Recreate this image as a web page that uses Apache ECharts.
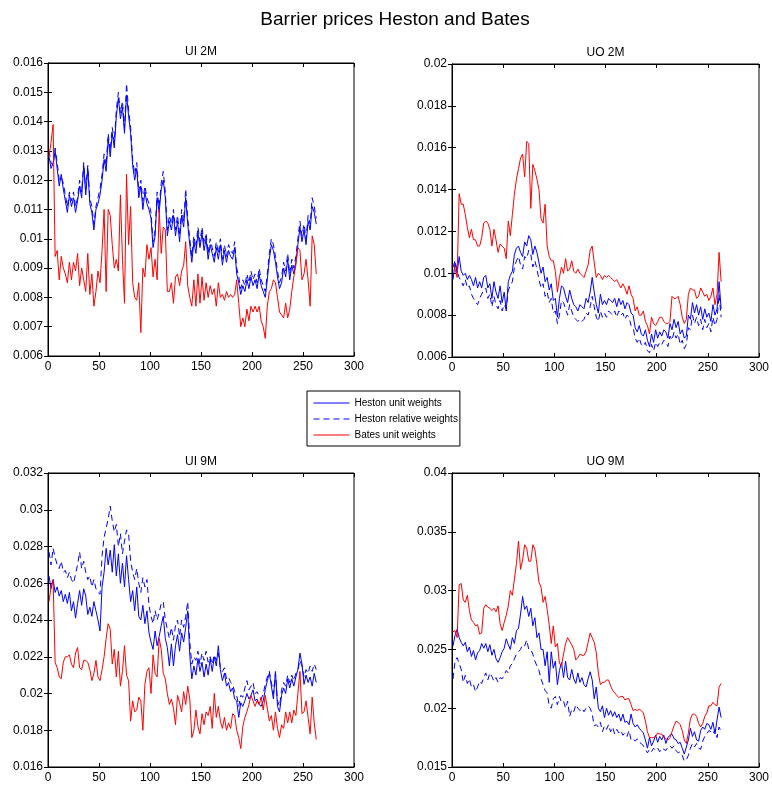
<!DOCTYPE html>
<html><head><meta charset="utf-8">
<script src="https://cdn.jsdelivr.net/npm/echarts@6/dist/echarts.min.js"></script>
<style>html,body{margin:0;padding:0;background:#fff}#c{width:772px;height:787px}</style>
</head><body><div id="c"></div>
<script>
// trading day index (every 2nd day)
const days = [];
for (let d = 1; d <= 263; d += 2) days.push(d);

const seriesNames = ['Heston unit weights', 'Heston relative weights', 'Bates unit weights'];
const panelTitles = ['UI 2M', 'UO 2M', 'UI 9M', 'UO 9M'];
const mainTitle = 'Barrier prices Heston and Bates';
const xTickValues = [0, 50, 100, 150, 200, 250, 300];

// ---- UI 2M ----
const hu1 = [0.0128,0.0124,0.0126,0.0130,0.0124,0.0118,0.0122,0.0117,0.0113,0.0109,
0.0115,0.0111,0.0114,0.0109,0.0113,0.0118,0.0114,0.0125,0.0115,0.0124,
0.0112,0.0109,0.0103,0.0110,0.0112,0.0115,0.0120,0.0127,0.0123,0.0134,
0.0128,0.0136,0.0131,0.0142,0.0148,0.0141,0.0145,0.0136,0.0149,0.0142,
0.0136,0.0125,0.0120,0.0124,0.0114,0.0118,0.0110,0.0116,0.0112,0.0110,
0.0107,0.0097,0.0101,0.0114,0.0109,0.0117,0.0120,0.0114,0.0101,0.0106,
0.0103,0.0108,0.0101,0.0106,0.0099,0.0108,0.0104,0.0114,0.0105,0.0098,
0.0092,0.0099,0.0095,0.0102,0.0097,0.0102,0.0096,0.0100,0.0093,0.0098,
0.0095,0.0092,0.0097,0.0093,0.0098,0.0091,0.0096,0.0092,0.0096,0.0094,
0.0093,0.0097,0.0088,0.0085,0.0081,0.0084,0.0082,0.0086,0.0083,0.0087,
0.0084,0.0086,0.0083,0.0088,0.0084,0.0082,0.0080,0.0086,0.0093,0.0098,
0.0096,0.0092,0.0087,0.0083,0.0085,0.0090,0.0087,0.0093,0.0086,0.0091,
0.0088,0.0092,0.0098,0.0104,0.0099,0.0103,0.0098,0.0106,0.0103,0.0111,
0.0109,0.0105];
const hr1 = [0.0130,0.0126,0.0125,0.0131,0.0126,0.0120,0.0121,0.0119,0.0115,0.0111,
0.0116,0.0113,0.0116,0.0111,0.0114,0.0120,0.0116,0.0126,0.0117,0.0125,
0.0114,0.0111,0.0105,0.0111,0.0114,0.0117,0.0122,0.0129,0.0125,0.0136,
0.0130,0.0138,0.0133,0.0144,0.0150,0.0143,0.0147,0.0138,0.0153,0.0144,
0.0138,0.0127,0.0122,0.0126,0.0116,0.0120,0.0113,0.0118,0.0114,0.0112,
0.0109,0.0099,0.0103,0.0116,0.0111,0.0119,0.0123,0.0116,0.0103,0.0108,
0.0105,0.0110,0.0103,0.0108,0.0101,0.0110,0.0106,0.0117,0.0107,0.0100,
0.0094,0.0101,0.0097,0.0104,0.0099,0.0104,0.0098,0.0102,0.0095,0.0100,
0.0097,0.0094,0.0099,0.0095,0.0100,0.0093,0.0098,0.0094,0.0098,0.0096,
0.0095,0.0099,0.0090,0.0087,0.0083,0.0086,0.0084,0.0088,0.0085,0.0089,
0.0086,0.0088,0.0085,0.0090,0.0086,0.0084,0.0082,0.0088,0.0095,0.0100,
0.0098,0.0094,0.0089,0.0085,0.0087,0.0092,0.0089,0.0095,0.0088,0.0093,
0.0090,0.0094,0.0100,0.0106,0.0101,0.0105,0.0100,0.0108,0.0105,0.0114,
0.0111,0.0107];
const b1 = [0.0128,0.0133,0.0139,0.0094,0.0096,0.0086,0.0094,0.0090,0.0088,0.0085,
0.0092,0.0086,0.0092,0.0089,0.0095,0.0084,0.0090,0.0086,0.0082,0.0095,
0.0081,0.0088,0.0077,0.0082,0.0089,0.0085,0.0096,0.0110,0.0082,0.0110,
0.0108,0.0098,0.0090,0.0093,0.0089,0.0115,0.0093,0.0078,0.0122,0.0098,
0.0111,0.0085,0.0080,0.0079,0.0085,0.0068,0.0090,0.0087,0.0098,0.0093,
0.0097,0.0087,0.0093,0.0086,0.0110,0.0095,0.0104,0.0103,0.0082,0.0082,
0.0085,0.0078,0.0087,0.0088,0.0084,0.0089,0.0091,0.0099,0.0084,0.0080,
0.0077,0.0086,0.0077,0.0088,0.0078,0.0087,0.0079,0.0085,0.0080,0.0084,
0.0081,0.0083,0.0077,0.0085,0.0080,0.0081,0.0079,0.0082,0.0080,0.0081,
0.0080,0.0081,0.0086,0.0078,0.0070,0.0073,0.0070,0.0076,0.0072,0.0077,
0.0075,0.0077,0.0075,0.0077,0.0072,0.0070,0.0066,0.0077,0.0082,0.0083,
0.0086,0.0085,0.0080,0.0075,0.0074,0.0073,0.0078,0.0073,0.0076,0.0082,
0.0087,0.0091,0.0097,0.0096,0.0086,0.0088,0.0093,0.0086,0.0077,0.0101,
0.0098,0.0088];

// ---- UO 2M ----
const hu2 = [0.0097,0.0105,0.0100,0.0108,0.0101,0.0099,0.0100,0.0097,0.0099,0.0097,
0.0094,0.0098,0.0093,0.0096,0.0093,0.0098,0.0099,0.0093,0.0095,0.0088,
0.0096,0.0091,0.0088,0.0094,0.0086,0.0091,0.0082,0.0096,0.0099,0.0101,
0.0109,0.0112,0.0113,0.0110,0.0108,0.0115,0.0113,0.0118,0.0116,0.0109,
0.0113,0.0110,0.0105,0.0100,0.0103,0.0096,0.0098,0.0092,0.0095,0.0087,
0.0088,0.0079,0.0088,0.0094,0.0093,0.0089,0.0086,0.0092,0.0088,0.0085,
0.0084,0.0082,0.0085,0.0084,0.0083,0.0088,0.0086,0.0091,0.0098,0.0091,
0.0085,0.0081,0.0090,0.0085,0.0087,0.0085,0.0088,0.0087,0.0086,0.0088,
0.0084,0.0088,0.0085,0.0087,0.0083,0.0086,0.0085,0.0081,0.0080,0.0074,
0.0072,0.0075,0.0071,0.0070,0.0073,0.0068,0.0065,0.0071,0.0067,0.0073,
0.0069,0.0072,0.0070,0.0073,0.0072,0.0069,0.0076,0.0073,0.0078,0.0074,
0.0077,0.0071,0.0073,0.0069,0.0070,0.0080,0.0078,0.0086,0.0081,0.0085,
0.0080,0.0084,0.0078,0.0083,0.0079,0.0081,0.0077,0.0085,0.0080,0.0083,
0.0096,0.0083];
const hr2 = [0.0103,0.0106,0.0101,0.0098,0.0096,0.0094,0.0097,0.0093,0.0094,0.0090,
0.0088,0.0086,0.0085,0.0088,0.0090,0.0092,0.0093,0.0088,0.0090,0.0084,
0.0089,0.0085,0.0083,0.0087,0.0082,0.0085,0.0083,0.0092,0.0094,0.0096,
0.0103,0.0106,0.0108,0.0104,0.0102,0.0108,0.0107,0.0111,0.0109,0.0103,
0.0106,0.0102,0.0097,0.0093,0.0095,0.0089,0.0091,0.0086,0.0088,0.0081,
0.0082,0.0076,0.0080,0.0087,0.0086,0.0083,0.0080,0.0085,0.0082,0.0079,
0.0078,0.0077,0.0078,0.0077,0.0078,0.0081,0.0080,0.0084,0.0089,0.0084,
0.0079,0.0077,0.0082,0.0079,0.0081,0.0079,0.0082,0.0081,0.0080,0.0082,
0.0079,0.0082,0.0080,0.0081,0.0078,0.0080,0.0079,0.0075,0.0074,0.0069,
0.0067,0.0069,0.0066,0.0065,0.0067,0.0063,0.0062,0.0066,0.0063,0.0067,
0.0065,0.0067,0.0066,0.0068,0.0067,0.0065,0.0070,0.0068,0.0072,0.0069,
0.0071,0.0066,0.0068,0.0064,0.0066,0.0074,0.0073,0.0080,0.0076,0.0079,
0.0075,0.0078,0.0073,0.0078,0.0074,0.0076,0.0072,0.0079,0.0075,0.0078,
0.0090,0.0079];
const b2 = [0.0104,0.0102,0.0098,0.0138,0.0133,0.0133,0.0128,0.0122,0.0117,0.0121,
0.0116,0.0116,0.0113,0.0113,0.0117,0.0124,0.0125,0.0124,0.0121,0.0113,
0.0121,0.0116,0.0110,0.0114,0.0113,0.0112,0.0107,0.0125,0.0118,0.0128,
0.0138,0.0145,0.0150,0.0155,0.0157,0.0146,0.0163,0.0162,0.0131,0.0152,
0.0149,0.0145,0.0140,0.0126,0.0124,0.0133,0.0113,0.0108,0.0106,0.0106,
0.0101,0.0091,0.0098,0.0103,0.0100,0.0107,0.0101,0.0102,0.0106,0.0101,
0.0100,0.0102,0.0100,0.0099,0.0098,0.0101,0.0104,0.0111,0.0113,0.0105,
0.0098,0.0100,0.0099,0.0097,0.0099,0.0098,0.0099,0.0098,0.0097,0.0096,
0.0097,0.0095,0.0093,0.0095,0.0093,0.0090,0.0094,0.0090,0.0088,0.0082,
0.0084,0.0080,0.0080,0.0082,0.0077,0.0075,0.0071,0.0079,0.0076,0.0075,
0.0077,0.0079,0.0079,0.0077,0.0076,0.0076,0.0077,0.0089,0.0088,0.0088,
0.0089,0.0085,0.0079,0.0076,0.0078,0.0090,0.0093,0.0092,0.0092,0.0088,
0.0089,0.0093,0.0091,0.0089,0.0090,0.0087,0.0089,0.0093,0.0085,0.0090,
0.0110,0.0096];

// ---- UI 9M ----
const hu3 = [0.0264,0.0257,0.0262,0.0255,0.0258,0.0253,0.0256,0.0250,0.0254,0.0249,
0.0255,0.0245,0.0250,0.0241,0.0249,0.0256,0.0248,0.0257,0.0253,0.0243,
0.0247,0.0242,0.0250,0.0245,0.0240,0.0234,0.0258,0.0266,0.0279,0.0270,
0.0278,0.0266,0.0281,0.0264,0.0276,0.0260,0.0271,0.0258,0.0275,0.0262,
0.0250,0.0256,0.0245,0.0258,0.0242,0.0240,0.0248,0.0238,0.0245,0.0233,
0.0228,0.0224,0.0234,0.0226,0.0231,0.0237,0.0242,0.0230,0.0225,0.0215,
0.0227,0.0215,0.0226,0.0232,0.0223,0.0233,0.0228,0.0236,0.0245,0.0221,
0.0208,0.0215,0.0210,0.0219,0.0212,0.0217,0.0209,0.0216,0.0210,0.0219,
0.0212,0.0220,0.0215,0.0226,0.0213,0.0207,0.0211,0.0204,0.0206,0.0201,
0.0203,0.0197,0.0196,0.0187,0.0195,0.0193,0.0196,0.0200,0.0197,0.0199,
0.0202,0.0196,0.0197,0.0194,0.0193,0.0196,0.0202,0.0207,0.0211,0.0204,
0.0197,0.0212,0.0193,0.0190,0.0199,0.0203,0.0200,0.0208,0.0203,0.0208,
0.0204,0.0209,0.0213,0.0222,0.0216,0.0205,0.0210,0.0206,0.0209,0.0204,
0.0211,0.0206];
const hr3 = [0.0277,0.0270,0.0279,0.0274,0.0270,0.0268,0.0272,0.0266,0.0267,0.0263,
0.0266,0.0262,0.0260,0.0265,0.0270,0.0277,0.0268,0.0272,0.0266,0.0262,
0.0264,0.0258,0.0262,0.0257,0.0255,0.0254,0.0275,0.0285,0.0290,0.0295,
0.0302,0.0294,0.0288,0.0292,0.0280,0.0287,0.0276,0.0283,0.0289,0.0287,
0.0272,0.0266,0.0262,0.0268,0.0260,0.0255,0.0263,0.0258,0.0262,0.0248,
0.0242,0.0238,0.0245,0.0240,0.0244,0.0249,0.0250,0.0240,0.0235,0.0230,
0.0236,0.0229,0.0237,0.0240,0.0231,0.0240,0.0236,0.0242,0.0250,0.0228,
0.0216,0.0220,0.0218,0.0223,0.0216,0.0222,0.0218,0.0223,0.0217,0.0220,
0.0216,0.0221,0.0218,0.0222,0.0214,0.0212,0.0214,0.0208,0.0209,0.0206,
0.0205,0.0201,0.0199,0.0193,0.0199,0.0198,0.0203,0.0207,0.0202,0.0204,
0.0206,0.0200,0.0201,0.0198,0.0197,0.0200,0.0205,0.0209,0.0212,0.0206,
0.0200,0.0211,0.0196,0.0193,0.0202,0.0206,0.0204,0.0210,0.0206,0.0210,
0.0207,0.0211,0.0213,0.0218,0.0215,0.0209,0.0213,0.0211,0.0215,0.0212,
0.0216,0.0213];
const b3 = [0.0250,0.0258,0.0262,0.0217,0.0214,0.0209,0.0208,0.0217,0.0220,0.0220,
0.0221,0.0216,0.0214,0.0222,0.0225,0.0214,0.0213,0.0218,0.0218,0.0217,
0.0213,0.0207,0.0211,0.0218,0.0209,0.0207,0.0213,0.0220,0.0230,0.0238,
0.0235,0.0216,0.0224,0.0209,0.0223,0.0204,0.0212,0.0226,0.0210,0.0207,
0.0185,0.0196,0.0190,0.0191,0.0198,0.0196,0.0180,0.0205,0.0212,0.0214,
0.0200,0.0221,0.0211,0.0209,0.0230,0.0224,0.0211,0.0208,0.0200,0.0194,
0.0197,0.0192,0.0183,0.0199,0.0195,0.0190,0.0201,0.0194,0.0204,0.0197,
0.0176,0.0180,0.0191,0.0182,0.0178,0.0189,0.0183,0.0190,0.0188,0.0193,
0.0181,0.0200,0.0187,0.0193,0.0185,0.0181,0.0187,0.0180,0.0184,0.0181,
0.0189,0.0188,0.0180,0.0176,0.0170,0.0182,0.0187,0.0190,0.0194,0.0199,
0.0196,0.0193,0.0196,0.0194,0.0198,0.0191,0.0199,0.0192,0.0185,0.0188,
0.0180,0.0190,0.0181,0.0176,0.0183,0.0181,0.0190,0.0184,0.0190,0.0184,
0.0191,0.0188,0.0200,0.0212,0.0189,0.0190,0.0196,0.0187,0.0178,0.0198,
0.0184,0.0175];

// ---- UO 9M ----
const hu4 = [0.0253,0.0262,0.0267,0.0260,0.0256,0.0253,0.0256,0.0248,0.0252,0.0244,
0.0249,0.0241,0.0247,0.0249,0.0255,0.0251,0.0255,0.0248,0.0254,0.0245,
0.0250,0.0242,0.0239,0.0243,0.0248,0.0251,0.0259,0.0254,0.0250,0.0260,
0.0255,0.0266,0.0268,0.0280,0.0295,0.0284,0.0287,0.0278,0.0285,0.0270,
0.0277,0.0260,0.0264,0.0250,0.0250,0.0236,0.0248,0.0222,0.0248,0.0234,
0.0240,0.0220,0.0232,0.0239,0.0226,0.0240,0.0226,0.0224,0.0233,0.0225,
0.0221,0.0230,0.0222,0.0226,0.0220,0.0218,0.0225,0.0231,0.0224,0.0208,
0.0218,0.0200,0.0197,0.0202,0.0192,0.0200,0.0194,0.0198,0.0193,0.0197,
0.0192,0.0195,0.0189,0.0195,0.0188,0.0189,0.0186,0.0195,0.0187,0.0184,
0.0186,0.0183,0.0181,0.0179,0.0173,0.0166,0.0175,0.0168,0.0172,0.0177,
0.0171,0.0176,0.0173,0.0177,0.0170,0.0175,0.0177,0.0178,0.0174,0.0173,
0.0170,0.0171,0.0166,0.0161,0.0167,0.0173,0.0183,0.0176,0.0180,0.0173,
0.0172,0.0181,0.0184,0.0182,0.0187,0.0186,0.0182,0.0188,0.0178,0.0190,
0.0201,0.0192];
const hr4 = [0.0225,0.0240,0.0243,0.0238,0.0233,0.0222,0.0228,0.0221,0.0225,0.0218,
0.0220,0.0214,0.0218,0.0223,0.0221,0.0226,0.0230,0.0224,0.0230,0.0227,
0.0223,0.0226,0.0222,0.0226,0.0225,0.0228,0.0232,0.0230,0.0236,0.0238,
0.0242,0.0246,0.0248,0.0250,0.0254,0.0253,0.0258,0.0250,0.0250,0.0246,
0.0240,0.0236,0.0232,0.0225,0.0220,0.0215,0.0213,0.0202,0.0200,0.0208,
0.0210,0.0203,0.0210,0.0205,0.0206,0.0200,0.0206,0.0193,0.0199,0.0197,
0.0203,0.0200,0.0198,0.0200,0.0197,0.0200,0.0202,0.0200,0.0195,0.0185,
0.0186,0.0184,0.0188,0.0180,0.0185,0.0182,0.0186,0.0180,0.0184,0.0178,
0.0182,0.0179,0.0181,0.0177,0.0179,0.0176,0.0181,0.0173,0.0174,0.0172,
0.0174,0.0171,0.0170,0.0168,0.0165,0.0162,0.0165,0.0163,0.0166,0.0164,
0.0166,0.0163,0.0166,0.0165,0.0164,0.0167,0.0168,0.0166,0.0168,0.0164,
0.0162,0.0163,0.0160,0.0155,0.0156,0.0160,0.0166,0.0170,0.0167,0.0170,
0.0166,0.0165,0.0172,0.0176,0.0178,0.0181,0.0180,0.0178,0.0182,0.0175,
0.0184,0.0180];
const b4 = [0.0265,0.0266,0.0260,0.0305,0.0306,0.0292,0.0290,0.0296,0.0283,0.0275,
0.0273,0.0270,0.0271,0.0263,0.0264,0.0285,0.0288,0.0286,0.0285,0.0283,
0.0285,0.0282,0.0287,0.0272,0.0266,0.0273,0.0279,0.0287,0.0300,0.0296,
0.0310,0.0323,0.0342,0.0318,0.0326,0.0339,0.0336,0.0325,0.0325,0.0339,
0.0335,0.0322,0.0307,0.0303,0.0290,0.0295,0.0284,0.0271,0.0255,0.0270,
0.0252,0.0255,0.0238,0.0236,0.0246,0.0255,0.0260,0.0257,0.0254,0.0250,
0.0241,0.0243,0.0246,0.0245,0.0245,0.0248,0.0256,0.0264,0.0260,0.0256,
0.0247,0.0230,0.0220,0.0222,0.0222,0.0224,0.0224,0.0219,0.0215,0.0213,
0.0211,0.0209,0.0210,0.0210,0.0207,0.0208,0.0208,0.0203,0.0198,0.0199,
0.0198,0.0199,0.0198,0.0196,0.0189,0.0180,0.0175,0.0175,0.0175,0.0176,
0.0179,0.0178,0.0178,0.0175,0.0174,0.0173,0.0175,0.0180,0.0185,0.0189,
0.0188,0.0186,0.0181,0.0173,0.0170,0.0179,0.0191,0.0195,0.0195,0.0193,
0.0187,0.0184,0.0187,0.0193,0.0196,0.0202,0.0202,0.0205,0.0203,0.0202,
0.0218,0.0221];

// y-axis ranges per panel
const yMins = [0.006, 0.006, 0.016, 0.015];
const yMaxs = [0.016, 0.020, 0.032, 0.040];
const ySteps = [0.001, 0.002, 0.002, 0.005];

const panelData = [[hu1, hr1, b1], [hu2, hr2, b2], [hu3, hr3, b3], [hu4, hr4, b4]];

// ---------- presentation ----------
const FONT = '"Liberation Sans", Arial, Helvetica, sans-serif';
const gridPos = [
  {left: 48, top: 63, width: 306, height: 293},
  {left: 452, top: 64, width: 307, height: 293},
  {left: 48, top: 473, width: 306, height: 294},
  {left: 452, top: 473, width: 307, height: 294}
];
const colors = ['#0000ff', '#0000ff', '#ff0000'];
const dashes = ['solid', [6, 4], 'solid'];

const grids = [], xAxes = [], yAxes = [], series = [], graphics = [];
gridPos.forEach((g, i) => {
  grids.push(Object.assign({show: true, borderColor: '#000', borderWidth: 1, backgroundColor: '#fff', containLabel: false}, g));
  const baseX = {type: 'value', gridIndex: i, min: 0, max: 300, interval: 50,
    splitLine: {show: false}, axisLine: {show: true, lineStyle: {color: '#000', width: 1}},
    axisTick: {show: true, inside: true, length: 4, lineStyle: {color: '#000'}}};
  xAxes.push(Object.assign({}, baseX, {position: 'bottom',
    axisLabel: {show: true, color: '#000', fontSize: 12, fontFamily: FONT, margin: 5,
      formatter: v => xTickValues.includes(v) ? String(v) : ''}}));
  xAxes.push(Object.assign({}, baseX, {position: 'top', axisLabel: {show: false}}));
  const baseY = {type: 'value', gridIndex: i, min: yMins[i], max: yMaxs[i], interval: ySteps[i],
    splitLine: {show: false}, axisLine: {show: true, lineStyle: {color: '#000', width: 1}},
    axisTick: {show: true, inside: true, length: 4, lineStyle: {color: '#000'}}};
  yAxes.push(Object.assign({}, baseY, {position: 'left',
    axisLabel: {show: true, color: '#000', fontSize: 12, fontFamily: FONT, margin: 5,
      formatter: v => String(parseFloat(v.toFixed(4)))}}));
  yAxes.push(Object.assign({}, baseY, {position: 'right', axisLabel: {show: false}}));

  panelData[i].forEach((vals, k) => {
    series.push({
      name: seriesNames[k], type: 'line', xAxisIndex: 2 * i, yAxisIndex: 2 * i,
      data: days.map((d, j) => [d, vals[j]]),
      symbol: 'none', showSymbol: false, smooth: false, silent: true,
      lineStyle: {color: colors[k], width: 1, type: dashes[k]},
      itemStyle: {color: colors[k]}, z: 2 + k
    });
  });

  graphics.push({type: 'text', x: g.left + g.width / 2, y: g.top - 11,
    style: {text: panelTitles[i], font: '12px ' + FONT, fill: '#000', textAlign: 'center', textVerticalAlign: 'middle'}});
});

graphics.push({type: 'text', x: 395, y: 20,
  style: {text: mainTitle, font: '19px ' + FONT, fill: '#000', textAlign: 'center', textVerticalAlign: 'middle'}});

const chart = echarts.init(document.getElementById('c'), null, {renderer: 'canvas'});
chart.setOption({
  animation: false,
  backgroundColor: '#fff',
  grid: grids, xAxis: xAxes, yAxis: yAxes, series: series,
  graphic: graphics,
  legend: {
    data: seriesNames, orient: 'vertical', left: 307, top: 391,
    backgroundColor: '#fff', borderColor: '#000', borderWidth: 1,
    padding: [7, 2, 6, 6], itemWidth: 36, itemHeight: 11, itemGap: 6,
    itemStyle: {opacity: 0},
    lineStyle: {width: 1},
    textStyle: {fontSize: 10, fontFamily: FONT, color: '#000'},
    selectedMode: false
  }
});
</script></body></html>
